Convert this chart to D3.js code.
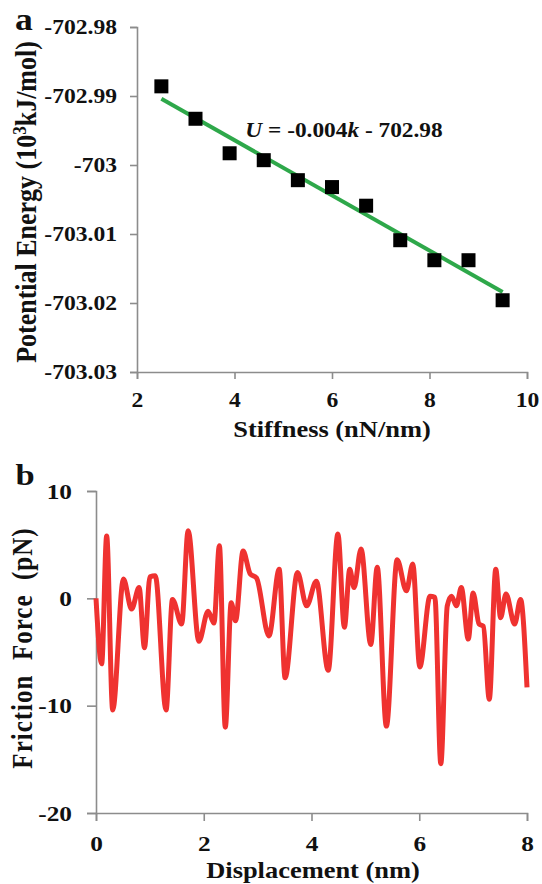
<!DOCTYPE html>
<html lang="en">
<head>
    <meta charset="UTF-8">
    <title>Stiffness and friction</title>
    <script src="https://d3js.org/d3.v7.min.js"></script>
    <style>
        body { margin: 0; background: #fff; }
        text { font-family: "Liberation Serif", "Times New Roman", serif; font-weight: bold; fill: #111; }
    </style>
</head>
<body>
    <div id="chart"></div>

    <script>
        // panel a: potential energy vs stiffness
        const stiffness = [2.5, 3.2, 3.9, 4.6, 5.3, 6.0, 6.7, 7.4, 8.1, 8.8, 9.5];
        const energy = [-702.9886, -702.9933, -702.9983, -702.9993, -703.0022, -703.0032,
                        -703.0059, -703.0109, -703.0138, -703.0138, -703.0196];
        const fitSlope = -0.004;
        const fitIntercept = -702.9804;
        const xTicksA = [2, 4, 6, 8, 10];
        const yTicksA = [-702.98, -702.99, -703.00, -703.01, -703.02, -703.03];
        const yLabelsA = ["-702.98", "-702.99", "-703", "-703.01", "-703.02", "-703.03"];

        // panel b: friction force vs displacement
        const displacement = [0, 0.105, 0.198, 0.31, 0.51, 0.66, 0.80, 0.90, 1.0, 1.1, 1.30, 1.42,
            1.59, 1.71, 1.91, 2.08, 2.19, 2.29, 2.40, 2.51, 2.59, 2.73, 2.86, 2.98, 3.21, 3.40,
            3.51, 3.74, 3.91, 4.09, 4.31, 4.49, 4.61, 4.71, 4.79, 4.92, 5.10, 5.22, 5.39, 5.59,
            5.76, 5.88, 6.01, 6.20, 6.29, 6.40, 6.52, 6.60, 6.69, 6.78, 6.91, 7.00, 7.11, 7.19,
            7.30, 7.42, 7.51, 7.61, 7.77, 7.88, 8.0];
        const friction = [0, -6.1, 5.8, -10.4, 1.8, -1.0, 1.0, -4.6, 2.0, 2.1, -10.4, -0.1,
            -2.4, 6.3, -4.0, -1.2, -2.3, 4.9, -12.0, -0.4, -2.1, 4.4, 2.3, 1.9, -3.5, 2.7,
            -7.4, 2.4, -0.7, 1.6, -6.7, 6.0, -2.7, 2.7, 1.0, 4.6, -4.3, 2.9, -11.9, 3.6,
            0.7, 3.2, -6.4, 0.2, 0.1, -15.4, -0.7, 0.2, -0.7, 1.0, -3.8, 0.5, -2.4, -2.6,
            -9.4, 2.7, -1.8, 0.4, -2.4, -0.1, -8.3];
        const xTicksB = [0, 2, 4, 6, 8];
        const yTicksB = [10, 0, -10, -20];

        const width = 542, height = 884;
        const axisColor = "#8c8c8c";
        const SX = 1.15; // the figure's lettering is a bit wide

        const svg = d3.select("#chart")
            .append("svg")
            .attr("width", width)
            .attr("height", height);

        function styleAxis(g, size) {
            g.select(".domain").attr("stroke", axisColor).attr("stroke-width", 1.6);
            g.selectAll(".tick line").attr("stroke", axisColor).attr("stroke-width", 1.6);
            g.selectAll(".tick text")
                .attr("font-family", "Liberation Serif, serif")
                .attr("font-weight", "bold")
                .attr("font-size", size)
                .attr("fill", "#111")
                .each(function () {
                    const t = d3.select(this);
                    const x = +t.attr("x") || 0;
                    t.attr("x", x / SX).attr("transform", `scale(${SX},1)`);
                });
        }

        function label(x, y, size, str, rotate) {
            return svg.append("text")
                .attr("transform", `translate(${x},${y}) scale(${SX},1)` + (rotate ? " rotate(-90)" : ""))
                .attr("text-anchor", "middle")
                .attr("font-size", size)
                .text(str);
        }

        // ---------- panel a ----------
        const xA = d3.scaleLinear().domain([2, 10]).range([137, 527]);
        const yA = d3.scaleLinear().domain([-703.03, -702.98]).range([372, 27]);

        svg.append("g")
            .attr("transform", `translate(0,${yA(-703.03)})`)
            .call(d3.axisBottom(xA).tickValues(xTicksA).tickSizeOuter(0).tickSize(7).tickPadding(13))
            .call(styleAxis, 20.5);

        svg.append("g")
            .attr("transform", `translate(${xA(2)},0)`)
            .call(d3.axisLeft(yA).tickValues(yTicksA).tickFormat((d, i) => yLabelsA[i])
                .tickSizeOuter(0).tickSize(7).tickPadding(13))
            .call(styleAxis, 20.5);

        // fitted line
        const fitPts = [stiffness[0], stiffness[stiffness.length - 1]].map(k => [k, fitSlope * k + fitIntercept]);
        svg.append("path")
            .datum(fitPts)
            .attr("d", d3.line().x(d => xA(d[0])).y(d => yA(d[1])))
            .attr("stroke", "#2ea84a")
            .attr("stroke-width", 4)
            .attr("fill", "none");

        const sq = 14;
        svg.selectAll("rect.pt")
            .data(stiffness)
            .enter()
            .append("rect")
            .attr("class", "pt")
            .attr("x", d => xA(d) - sq / 2)
            .attr("y", (d, i) => yA(energy[i]) - sq / 2)
            .attr("width", sq)
            .attr("height", sq)
            .attr("fill", "#000");

        // equation
        const eq = label(344, 137, 20.3, null);
        eq.append("tspan").attr("font-style", "italic").text("U");
        eq.append("tspan").text(" = -0.004");
        eq.append("tspan").attr("font-style", "italic").text("k");
        eq.append("tspan").text(" - 702.98");

        label(332, 437, 23, "Stiffness (nN/nm)");

        const yTitleA = label(36, 202, 26, null, true);
        yTitleA.append("tspan").text("Potential Energy (10");
        yTitleA.append("tspan").attr("font-size", 17).attr("dy", -9).text("3");
        yTitleA.append("tspan").attr("dy", 9).text("kJ/mol)");

        label(24, 30, 31, "a");

        // ---------- panel b ----------
        const xB = d3.scaleLinear().domain([0, 8]).range([96, 527]);
        const yB = d3.scaleLinear().domain([-20, 10]).range([813, 491]);

        svg.append("g")
            .attr("transform", `translate(0,${yB(-20)})`)
            .call(d3.axisBottom(xB).tickValues(xTicksB).tickSizeOuter(0).tickSize(8).tickPadding(14))
            .call(styleAxis, 22);

        svg.append("g")
            .attr("transform", `translate(${xB(0)},0)`)
            .call(d3.axisLeft(yB).tickValues(yTicksB).tickFormat(d => d < 0 ? "-" + Math.abs(d) : d)
                .tickSizeOuter(0).tickSize(9).tickPadding(15))
            .call(styleAxis, 22);

        svg.append("path")
            .datum(displacement.map((d, i) => [d, friction[i]]))
            .attr("d", d3.line().x(d => xB(d[0])).y(d => yB(d[1])).curve(d3.curveMonotoneX))
            .attr("stroke", "#ef3230")
            .attr("stroke-width", 5)
            .attr("stroke-linejoin", "round")
            .attr("fill", "none");

        label(313, 878, 23, "Displacement (nm)");

        label(32, 648, 25, "Friction  Force  (pN)", true)
            .attr("letter-spacing", 1)
            .style("white-space", "pre");

        label(25, 485, 30, "b");
    </script>
</body>
</html>
